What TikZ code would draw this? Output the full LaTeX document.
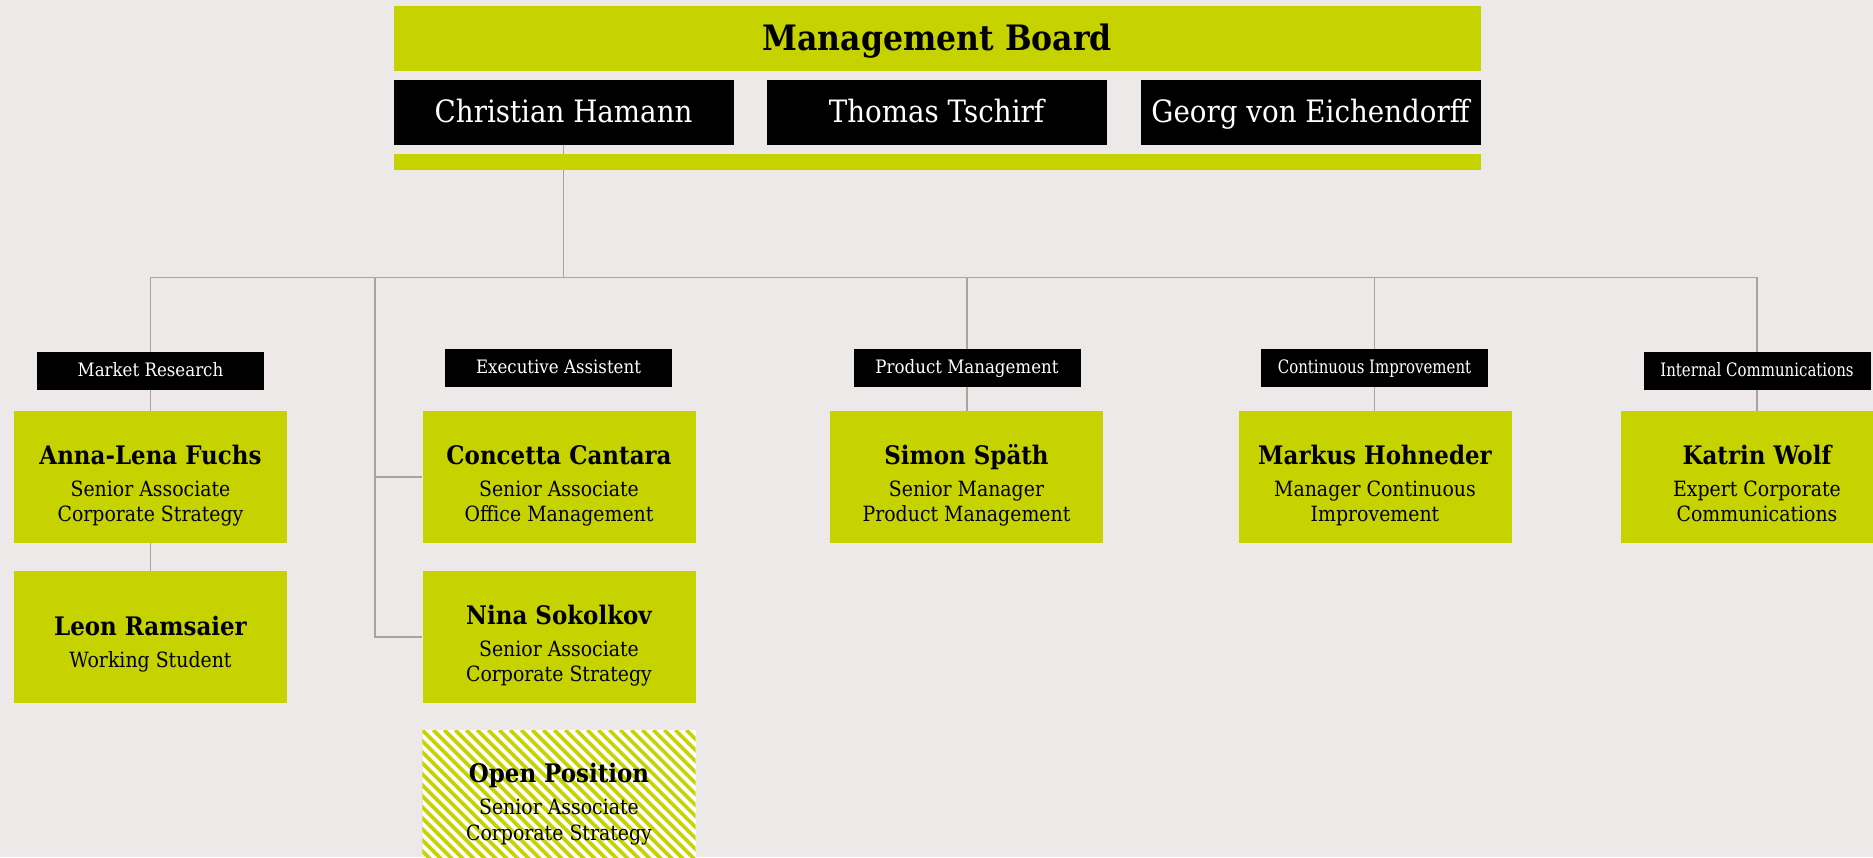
\documentclass[tikz,border=0pt]{standalone}
\usepackage{fontspec}
\setmainfont{DejaVu Serif}[FakeStretch=0.9]
\definecolor{lime}{RGB}{199,211,0}
\definecolor{bgc}{RGB}{237,233,232}
\definecolor{linec}{RGB}{168,162,160}
\pgfdeclarelayer{bottom}
\pgfdeclarelayer{background}
\pgfsetlayers{bottom,background,main}
\tikzset{
  bar/.style={fill=lime, inner sep=0pt, minimum width=1087.5pt},
  board/.style={fill=black, text=white, inner sep=0pt, minimum width=340pt, minimum height=64.7pt, font=\fontsize{30.8}{36}\selectfont, text height=22pt, text depth=1.3pt},
  dept/.style={fill=black, text=white, inner sep=0pt, minimum width=227pt, minimum height=38pt, font=\fontsize{18.5}{22}\selectfont, text height=13pt, text depth=1.6pt},
  personbox/.style={fill=lime, inner sep=0pt, minimum width=273pt, minimum height=132pt},
  pname/.style={font=\fontsize{25.5}{30}\selectfont\bfseries, anchor=base, inner sep=0pt},
  prole/.style={font=\fontsize{21}{26}\selectfont, anchor=base, inner sep=0pt},
  link/.style={draw=linec, line width=1.5pt}
}
\newcommand\pthree[7][personbox]{%
  \node[#1, anchor=north] (#2) at (#3,#4) {};
  \node[pname] (#2-n) at (#3,#4+53) {#5};
  \node[prole] (#2-a) at (#3,#4+85) {#6};
  \node[prole] (#2-b) at (#3,#4+110.7) {#7};
}
\newcommand\ptwo[5]{%
  \node[personbox, anchor=north] (#1) at (#2,#3) {};
  \node[pname] (#1-n) at (#2,#3+64.7) {#4};
  \node[prole] (#1-a) at (#2,#3+96.3) {#5};
}
\begin{document}
\begin{tikzpicture}[x=1pt,y=-1pt]
\useasboundingbox (0,0) rectangle (1873,857);
\begin{pgfonlayer}{bottom}
  \fill[bgc] (0,0) rectangle (1873,857);
\end{pgfonlayer}

% management board
\node[bar, minimum height=64.7pt, font=\fontsize{35}{40}\selectfont\bfseries, text height=26pt, text depth=1.3pt] (mb) at (937.25,38.35) {Management Board};
\node[board] (christian) at (563.6,112.35) {Christian Hamann};
\node[board] (thomas) at (936.5,112.35) {Thomas Tschirf};
\node[board] (georg) at (1310.5,112.35) {Georg von Eichendorff};
\node[bar, minimum height=16pt] (lowbar) at (937.25,162) {};

% departments
\node[dept] (market) at (150.5,371) {Market Research};
\node[dept] (exec) at (558.5,368) {Executive Assistent};
\node[dept] (product) at (967,368) {Product Management};
\node[dept] (cont) at (1374.5,368) {\scalebox{0.9}[1]{Continuous Improvement}};
\node[dept] (internal) at (1757,371) {\scalebox{0.9}[1]{Internal Communications}};

% persons
\pthree{anna}{150.5}{411}{Anna-Lena Fuchs}{Senior Associate}{Corporate Strategy}
\ptwo{leon}{150.5}{571}{Leon Ramsaier}{Working Student}
\pthree{concetta}{559}{411}{Concetta Cantara}{Senior Associate}{Office Management}
\pthree{nina}{559}{571}{Nina Sokolkov}{Senior Associate}{Corporate Strategy}
\pthree{simon}{966.5}{411}{Simon Späth}{Senior Manager}{Product Management}
\pthree{markus}{1375}{411}{Markus Hohneder}{Manager Continuous}{Improvement}
\pthree{katrin}{1757}{411}{Katrin Wolf}{Expert Corporate}{Communications}

% open position (striped)
\node[personbox, fill=white, anchor=north] (open) at (559,730) {};
\begin{scope}
  \clip (open.south west) rectangle (open.north east);
  \foreach \k in {-14,...,26}
    \draw[lime, line width=3.6pt] ([xshift=\k*11pt]open.north west) -- ++(150,150);
\end{scope}
\node[pname] (open-n) at (559,730+52) {Open Position};
\node[prole] (open-a) at (559,730+84) {Senior Associate};
\node[prole] (open-b) at (559,730+110) {Corporate Strategy};

% connectors
\coordinate (hub) at (563.6,277.5);
\coordinate (ebranch) at (375,277.5);
\begin{pgfonlayer}{background}
  \draw[link] (christian.south) -- (hub);
  \draw[link] (market.north) -- (market.north |- hub) -- (internal.north |- hub) -- (internal.north);
  \draw[link] (product.north) -- (product.north |- hub);
  \draw[link] (cont.north) -- (cont.north |- hub);
  \draw[link] (ebranch) |- (nina.west);
  \draw[link] (ebranch |- concetta.west) -- (concetta.west);
  \draw[link] (market.south) -- (anna.north);
  \draw[link] (anna.south) -- (leon.north);
  \draw[link] (product.south) -- (product.south |- simon.north);
  \draw[link] (cont.south) -- (cont.south |- markus.north);
  \draw[link] (internal.south) -- (katrin.north);
\end{pgfonlayer}
\end{tikzpicture}
\end{document}
